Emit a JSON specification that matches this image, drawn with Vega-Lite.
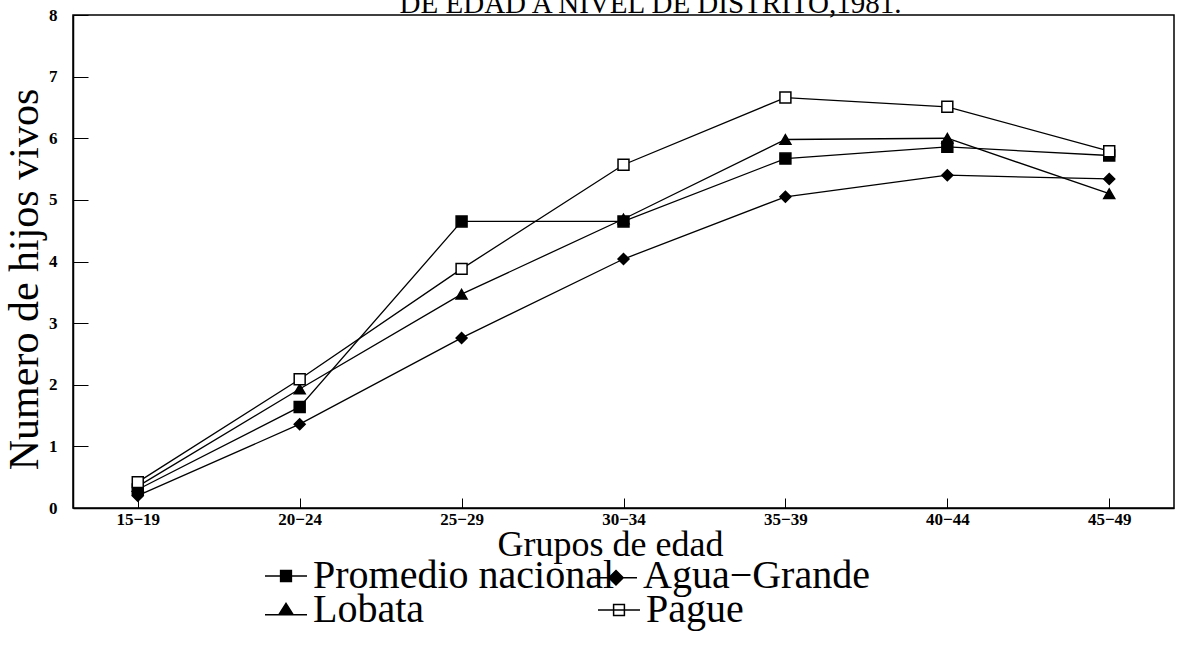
{
  "$schema": "https://vega.github.io/schema/vega-lite/v6.json",
  "width": 1101,
  "height": 493,
  "autosize": {"type": "none"},
  "padding": {"left": 73, "top": 15, "right": 10, "bottom": 149},
  "background": "white",
  "title": {
    "text": "DE EDAD A NIVEL DE DISTRITO,1981.",
    "font": "Liberation Serif",
    "fontSize": 29,
    "fontWeight": "normal",
    "color": "black",
    "anchor": "middle",
    "frame": "group",
    "dx": 27,
    "offset": -13
  },
  "config": {
    "view": {"stroke": "black", "strokeWidth": 1.5}
  },
  "resolve": {"scale": {"shape": "independent", "fill": "independent"}, "legend": {"shape": "independent", "fill": "independent"}},
  "data": {
    "values": [
      {"grupo": "15−19", "serie": "Promedio nacional", "valor": 0.3},
      {"grupo": "20−24", "serie": "Promedio nacional", "valor": 1.64},
      {"grupo": "25−29", "serie": "Promedio nacional", "valor": 4.65},
      {"grupo": "30−34", "serie": "Promedio nacional", "valor": 4.65},
      {"grupo": "35−39", "serie": "Promedio nacional", "valor": 5.67},
      {"grupo": "40−44", "serie": "Promedio nacional", "valor": 5.86},
      {"grupo": "45−49", "serie": "Promedio nacional", "valor": 5.72},
      {"grupo": "15−19", "serie": "Agua−Grande", "valor": 0.2},
      {"grupo": "20−24", "serie": "Agua−Grande", "valor": 1.36},
      {"grupo": "25−29", "serie": "Agua−Grande", "valor": 2.76},
      {"grupo": "30−34", "serie": "Agua−Grande", "valor": 4.04},
      {"grupo": "35−39", "serie": "Agua−Grande", "valor": 5.05},
      {"grupo": "40−44", "serie": "Agua−Grande", "valor": 5.4},
      {"grupo": "45−49", "serie": "Agua−Grande", "valor": 5.34},
      {"grupo": "15−19", "serie": "Lobata", "valor": 0.35},
      {"grupo": "20−24", "serie": "Lobata", "valor": 1.93},
      {"grupo": "25−29", "serie": "Lobata", "valor": 3.47},
      {"grupo": "30−34", "serie": "Lobata", "valor": 4.69},
      {"grupo": "35−39", "serie": "Lobata", "valor": 5.98},
      {"grupo": "40−44", "serie": "Lobata", "valor": 6.0},
      {"grupo": "45−49", "serie": "Lobata", "valor": 5.1},
      {"grupo": "15−19", "serie": "Pague", "valor": 0.42},
      {"grupo": "20−24", "serie": "Pague", "valor": 2.09},
      {"grupo": "25−29", "serie": "Pague", "valor": 3.88},
      {"grupo": "30−34", "serie": "Pague", "valor": 5.57},
      {"grupo": "35−39", "serie": "Pague", "valor": 6.66},
      {"grupo": "40−44", "serie": "Pague", "valor": 6.51},
      {"grupo": "45−49", "serie": "Pague", "valor": 5.79}
    ]
  },
  "encoding": {
    "x": {
      "field": "grupo",
      "type": "ordinal",
      "scale": {"type": "point", "padding": 0.4},
      "axis": {
        "title": "Grupos de edad",
        "titleFont": "Liberation Serif",
        "titleFontSize": 36,
        "titleFontWeight": "normal",
        "titleColor": "black",
        "titlePadding": 0,
        "titleX": 537,
        "labelAngle": 0,
        "labelFont": "Liberation Serif",
        "labelFontSize": 17,
        "labelFontWeight": "bold",
        "labelColor": "black",
        "labelPadding": 13,
        "tickSize": -10,
        "tickColor": "black",
        "domainColor": "black",
        "domainWidth": 1.5
      }
    },
    "y": {
      "field": "valor",
      "type": "quantitative",
      "scale": {"domain": [0, 8], "nice": false},
      "axis": {
        "title": "Numero de hijos vivos",
        "titleFont": "Liberation Serif",
        "titleFontSize": 42,
        "titleFontWeight": "normal",
        "titleColor": "black",
        "titlePadding": 2,
        "titleY": 264,
        "values": [0, 1, 2, 3, 4, 5, 6, 7, 8],
        "grid": false,
        "labelFont": "Liberation Serif",
        "labelFontSize": 17,
        "labelFontWeight": "bold",
        "labelColor": "black",
        "labelPadding": 31,
        "tickSize": -15,
        "tickColor": "black",
        "domainColor": "black",
        "domainWidth": 1.5
      }
    }
  },
  "layer": [
    {
      "mark": {"type": "line", "color": "black", "strokeWidth": 1.3},
      "encoding": {
        "detail": {"field": "serie"}
      }
    },
    {
      "mark": {"type": "point", "filled": false, "stroke": "black", "strokeWidth": 1.5, "opacity": 1, "size": 120},
      "encoding": {
        "shape": {
          "field": "serie",
          "type": "nominal",
          "scale": {
            "domain": ["Promedio nacional", "Agua−Grande", "Lobata", "Pague"],
            "range": ["square", "diamond", "triangle-up", "square"]
          },
          "legend": null
        },
        "fill": {
          "field": "serie",
          "type": "nominal",
          "scale": {
            "domain": ["Promedio nacional", "Agua−Grande", "Lobata", "Pague"],
            "range": ["black", "black", "black", "white"]
          },
          "legend": null
        }
      }
    },
    {
      "transform": [{"filter": "datum.serie === 'Promedio nacional'"}],
      "mark": {"type": "point", "filled": false, "stroke": "black", "strokeWidth": 1.2, "opacity": 0, "size": 144},
      "encoding": {
        "shape": {
          "field": "serie",
          "type": "nominal",
          "scale": {"domain": ["Promedio nacional"], "range": ["M-3.5,0H3.5M-0.9,-0.9H0.9V0.9H-0.9Z"]},
          "legend": {
            "title": null, "orient": "none", "legendX": 193, "legendY": 541, "padding": 0,
            "labelFont": "Liberation Serif", "labelFontSize": 40, "labelColor": "black", "labelOffset": 7,
            "symbolSize": 144, "symbolOpacity": 1, "labelLimit": 400,
            "encode": {"symbols": {"update": {"stroke": {"value": "black"}, "strokeWidth": {"value": 1.2}, "opacity": {"value": 1}, "strokeOpacity": {"value": 1}}}}
          }
        },
        "fill": {
          "field": "serie", "type": "nominal",
          "scale": {"domain": ["Promedio nacional"], "range": ["black"]},
          "legend": null
        }
      }
    },
    {
      "transform": [{"filter": "datum.serie === 'Agua−Grande'"}],
      "mark": {"type": "point", "filled": false, "stroke": "black", "strokeWidth": 1.2, "opacity": 0, "size": 144},
      "encoding": {
        "shape": {
          "field": "serie",
          "type": "nominal",
          "scale": {"domain": ["Agua−Grande"], "range": ["M-3.5,0.3H3.5M0,-0.9L1.2,0.3L0,1.5L-1.2,0.3Z"]},
          "legend": {
            "title": null, "orient": "none", "legendX": 523, "legendY": 541, "padding": 0,
            "labelFont": "Liberation Serif", "labelFontSize": 40, "labelColor": "black", "labelOffset": 7,
            "symbolSize": 144, "symbolOpacity": 1, "labelLimit": 400,
            "encode": {"symbols": {"update": {"stroke": {"value": "black"}, "strokeWidth": {"value": 1.2}, "opacity": {"value": 1}, "strokeOpacity": {"value": 1}}}}
          }
        },
        "fill": {
          "field": "serie", "type": "nominal",
          "scale": {"domain": ["Agua−Grande"], "range": ["black"]},
          "legend": null
        }
      }
    },
    {
      "transform": [{"filter": "datum.serie === 'Lobata'"}],
      "mark": {"type": "point", "filled": false, "stroke": "black", "strokeWidth": 1.2, "opacity": 0, "size": 144},
      "encoding": {
        "shape": {
          "field": "serie",
          "type": "nominal",
          "scale": {"domain": ["Lobata"], "range": ["M-3.5,0.8H3.5M0,-1.1L1.2,0.8H-1.2Z"]},
          "legend": {
            "title": null, "orient": "none", "legendX": 193, "legendY": 575, "padding": 0,
            "labelFont": "Liberation Serif", "labelFontSize": 40, "labelColor": "black", "labelOffset": 7,
            "symbolSize": 144, "symbolOpacity": 1, "labelLimit": 400,
            "encode": {"symbols": {"update": {"stroke": {"value": "black"}, "strokeWidth": {"value": 1.2}, "opacity": {"value": 1}, "strokeOpacity": {"value": 1}}}}
          }
        },
        "fill": {
          "field": "serie", "type": "nominal",
          "scale": {"domain": ["Lobata"], "range": ["black"]},
          "legend": null
        }
      }
    },
    {
      "transform": [{"filter": "datum.serie === 'Pague'"}],
      "mark": {"type": "point", "filled": false, "stroke": "black", "strokeWidth": 1.2, "opacity": 0, "size": 144},
      "encoding": {
        "shape": {
          "field": "serie",
          "type": "nominal",
          "scale": {"domain": ["Pague"], "range": ["M-3.5,0H3.5M-0.9,-0.9H0.9V0.9H-0.9Z"]},
          "legend": {
            "title": null, "orient": "none", "legendX": 526, "legendY": 575, "padding": 0,
            "labelFont": "Liberation Serif", "labelFontSize": 40, "labelColor": "black", "labelOffset": 7,
            "symbolSize": 144, "symbolOpacity": 1, "labelLimit": 400,
            "encode": {"symbols": {"update": {"stroke": {"value": "black"}, "strokeWidth": {"value": 1.2}, "opacity": {"value": 1}, "strokeOpacity": {"value": 1}}}}
          }
        },
        "fill": {
          "field": "serie", "type": "nominal",
          "scale": {"domain": ["Pague"], "range": ["white"]},
          "legend": null
        }
      }
    }
  ]
}
